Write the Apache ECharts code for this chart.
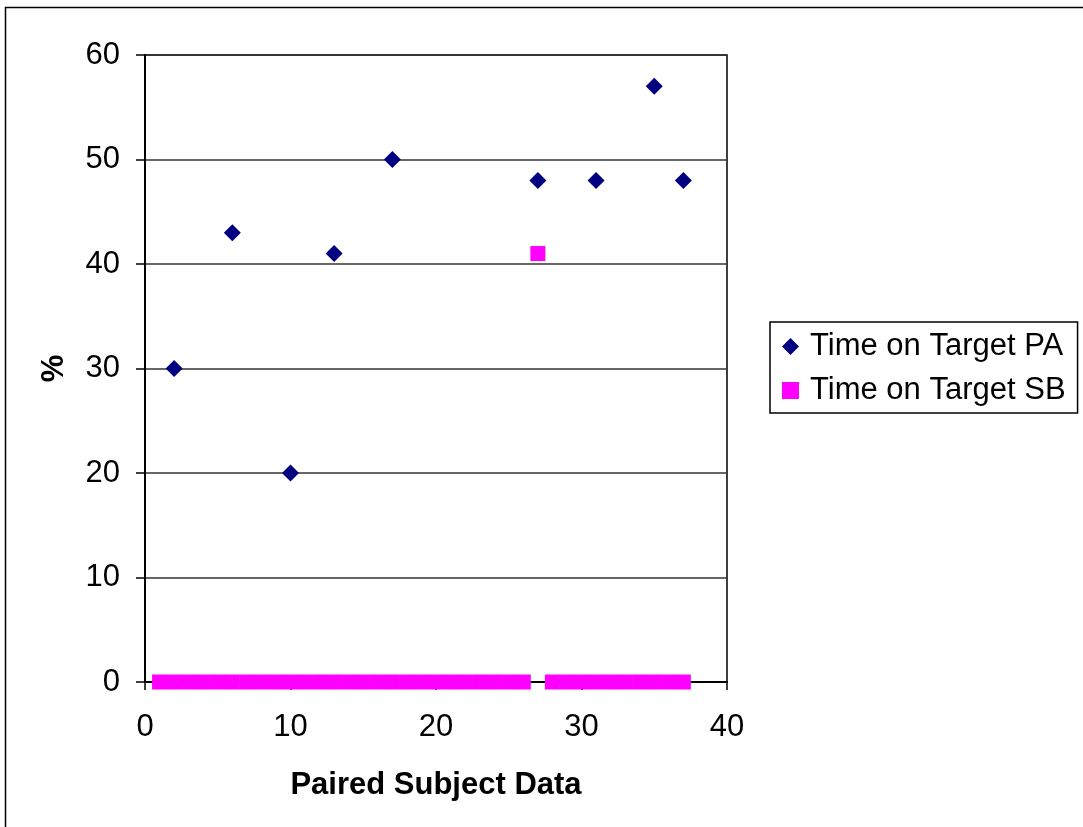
<!DOCTYPE html>
<html lang="en">
<head>
  <meta charset="UTF-8">
  <title>Time on Target</title>
  <script src="https://cdn.jsdelivr.net/npm/echarts@6/dist/echarts.min.js"></script>
  <style>
    html, body { margin: 0; padding: 0; background: #fff; }
  </style>
</head>
<body>
<div id="chart" style="width: 1083px; height: 827px"></div>
<script>
  const xValuesPA = [2, 6, 10, 13, 17, 27, 31, 35, 37];
  const yValuesPA = [30, 43, 20, 41, 50, 48, 48, 57, 48];

  const xValuesSB = [1, 2, 3, 4, 5, 6, 7, 8, 9, 10, 11, 12, 13, 14, 15, 16, 17, 18, 19,
    20, 21, 22, 23, 24, 25, 26, 27, 28, 29, 30, 31, 32, 33, 34, 35, 36, 37];
  const yValuesSB = [0, 0, 0, 0, 0, 0, 0, 0, 0, 0, 0, 0, 0, 0, 0, 0, 0, 0, 0,
    0, 0, 0, 0, 0, 0, 0, 41, 0, 0, 0, 0, 0, 0, 0, 0, 0, 0];

  const seriesNames = ['Time on Target PA', 'Time on Target SB'];
  const xTitle = 'Paired Subject Data';
  const yTitle = '%';

  const font = '"Liberation Sans", Arial, sans-serif';
  const chart = echarts.init(document.getElementById('chart'), null, { renderer: 'canvas' });

  const option = {
    animation: false,
    backgroundColor: '#fff',
    graphic: [{
      type: 'rect',
      shape: { x: 5.5, y: 7.5, width: 1200, height: 1000 },
      style: { fill: 'none', stroke: '#000', lineWidth: 1.5 },
      silent: true
    }],
    grid: {
      left: 145, right: 356, top: 55, bottom: 145,
      show: true, borderColor: '#000', borderWidth: 1.5, backgroundColor: 'transparent'
    },
    legend: {
      left: 770, top: 322,
      orient: 'vertical',
      borderColor: '#000', borderWidth: 1.5,
      padding: [9, 12, 7, 12],
      itemGap: 13,
      itemWidth: 17, itemHeight: 17,
      textStyle: { fontFamily: font, fontSize: 31, color: '#000', padding: [0, 0, 0, 6] },
      data: [
        { name: seriesNames[0], icon: 'diamond', itemStyle: { color: '#000080', opacity: 1 } },
        { name: seriesNames[1], icon: 'rect', itemStyle: { color: '#ff00ff', opacity: 1 } }
      ]
    },
    xAxis: {
      type: 'value', min: 0, max: 40, interval: 10,
      name: xTitle, nameLocation: 'middle', nameGap: 88,
      nameTextStyle: { fontFamily: font, fontSize: 31, fontWeight: 'bold', color: '#000' },
      axisLine: { show: true, onZero: false, lineStyle: { color: '#000', width: 2 } },
      axisTick: { show: true, inside: false, length: 8, lineStyle: { color: '#000', width: 1.5 } },
      axisLabel: { fontFamily: font, fontSize: 31, color: '#000', margin: 30 },
      splitLine: { show: false }
    },
    yAxis: {
      type: 'value', min: 0, max: 60, interval: 10,
      name: yTitle, nameLocation: 'middle', nameGap: 75, nameRotate: 90,
      nameTextStyle: { fontFamily: font, fontSize: 31, fontWeight: 'bold', color: '#000' },
      axisLine: { show: true, lineStyle: { color: '#000', width: 2 } },
      axisTick: { show: true, inside: false, length: 9, lineStyle: { color: '#000', width: 1.5 } },
      axisLabel: { fontFamily: font, fontSize: 31, color: '#000', margin: 25 },
      splitLine: { show: true, lineStyle: { color: '#333', width: 1.5 } }
    },
    series: [
      {
        name: seriesNames[0],
        type: 'scatter',
        symbol: 'diamond',
        symbolSize: 17,
        itemStyle: { color: '#000080', opacity: 1 },
        z: 3,
        data: xValuesPA.map((x, i) => [x, yValuesPA[i]])
      },
      {
        name: seriesNames[1],
        type: 'scatter',
        symbol: 'rect',
        symbolSize: 15,
        itemStyle: { color: '#ff00ff', opacity: 1 },
        z: 2,
        data: xValuesSB.map((x, i) => [x, yValuesSB[i]])
      }
    ]
  };
  chart.setOption(option);
</script>
</body>
</html>
